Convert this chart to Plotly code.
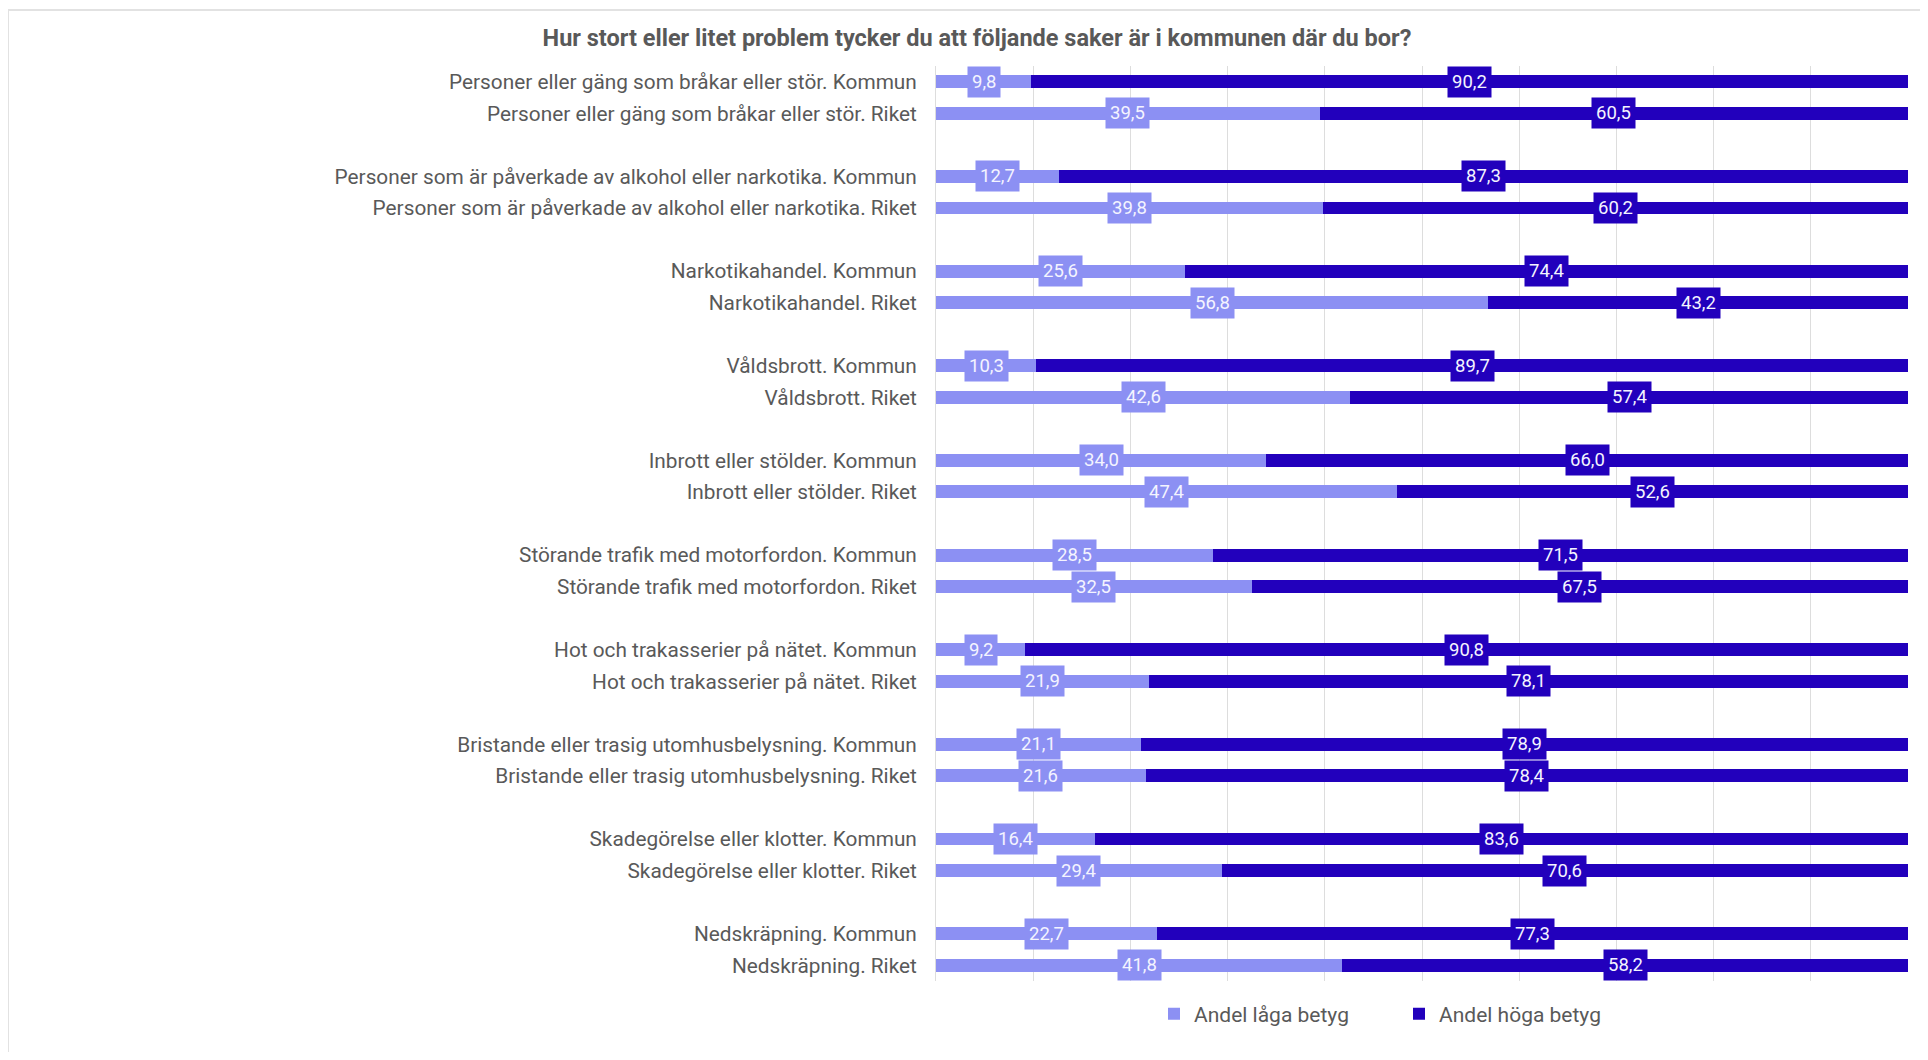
import plotly.graph_objects as go

categories = [
    "Personer eller gäng som bråkar eller stör",
    "Personer som är påverkade av alkohol eller narkotika",
    "Narkotikahandel",
    "Våldsbrott",
    "Inbrott eller stölder",
    "Störande trafik med motorfordon",
    "Hot och trakasserier på nätet",
    "Bristande eller trasig utomhusbelysning",
    "Skadegörelse eller klotter",
    "Nedskräpning",
]
areas = ["Kommun", "Riket"]

low_kommun = [9.8, 12.7, 25.6, 10.3, 34.0, 28.5, 9.2, 21.1, 16.4, 22.7]
high_kommun = [90.2, 87.3, 74.4, 89.7, 66.0, 71.5, 90.8, 78.9, 83.6, 77.3]
low_riket = [39.5, 39.8, 56.8, 42.6, 47.4, 32.5, 21.9, 21.6, 29.4, 41.8]
high_riket = [60.5, 60.2, 43.2, 57.4, 52.6, 67.5, 78.1, 78.4, 70.6, 58.2]

series_names = ["Andel låga betyg", "Andel höga betyg"]
title_text = "Hur stort eller litet problem tycker du att följande saker är i kommunen där du bor?"

LIGHT = "#8C90F3"
DARK = "#2200BC"
TEXT = "#595959"
FONT = "Roboto"

W, H = 1912, 1044
OFF_X, OFF_Y = 8, 8  # page -> figure offset (body margin)

# build row positions (Kommun / Riket per group, blank slot between groups)
ypos, ylabels, lows, highs = [], [], [], []
for i, c in enumerate(categories):
    for j, a in enumerate(areas):
        ypos.append(3 * i + j)
        ylabels.append(f"{c}. {a}")
        lows.append(low_kommun[i] if j == 0 else low_riket[i])
        highs.append(high_kommun[i] if j == 0 else high_riket[i])

fmt = lambda v: f"{v:.1f}".replace(".", ",")

fig = go.Figure()
fig.add_trace(go.Bar(
    y=ypos, x=lows, orientation="h", name=series_names[0],
    marker=dict(color=LIGHT, line=dict(width=0)), width=0.41,
    hoverinfo="skip",
))
fig.add_trace(go.Bar(
    y=ypos, x=highs, orientation="h", name=series_names[1],
    marker=dict(color=DARK, line=dict(width=0)), width=0.41,
    hoverinfo="skip",
))

annotations = []
for y, lo, hi in zip(ypos, lows, highs):
    annotations.append(dict(
        x=lo / 2, y=y, xref="x", yref="y", text=fmt(lo), showarrow=False,
        font=dict(family=FONT, size=18.5, color="#F4F4FF"),
        bgcolor=LIGHT, borderpad=4, xanchor="center", yanchor="middle",
    ))
    annotations.append(dict(
        x=lo + hi / 2, y=y, xref="x", yref="y", text=fmt(hi), showarrow=False,
        font=dict(family=FONT, size=18.5, color="#F4F4FF"),
        bgcolor=DARK, borderpad=4, xanchor="center", yanchor="middle",
    ))

# plot area in page pixels
px0, px1 = 936, 1908
py0, py1 = 66, 981

fig.update_layout(
    width=W, height=H,
    barmode="stack",
    paper_bgcolor="white", plot_bgcolor="white",
    font=dict(family=FONT, color=TEXT),
    margin=dict(l=px0 - OFF_X, r=W - (px1 - OFF_X), t=py0 - OFF_Y, b=H - (py1 - OFF_Y), pad=0),
    title=dict(
        text=f"<b>{title_text}</b>",
        font=dict(family=FONT, size=23.5, color=TEXT),
        x=(977 - OFF_X) / W, xref="container", xanchor="center",
        y=1 - (38 - OFF_Y) / H, yref="container", yanchor="middle",
    ),
    xaxis=dict(
        range=[0, 100], showgrid=True, gridcolor="#DDDDDD", gridwidth=1,
        dtick=10, showticklabels=False, zeroline=False,
        showline=False, fixedrange=True,
    ),
    yaxis=dict(
        tickmode="array", tickvals=ypos, ticktext=ylabels,
        range=[28.5, -0.5], showgrid=False, zeroline=False,
        showline=True, linecolor="#DDDDDD", linewidth=1,
        tickfont=dict(family=FONT, size=20.8, color=TEXT),
        ticks="", ticklabelstandoff=14, fixedrange=True,
    ),
    legend=dict(
        orientation="h", xref="container", yref="container",
        x=(1399 - OFF_X) / W, xanchor="center",
        y=1 - (1014 - OFF_Y) / H, yanchor="middle",
        font=dict(family=FONT, size=21, color=TEXT),
        entrywidth=200, entrywidthmode="pixels",
        traceorder="normal",
    ),
    annotations=annotations,
    shapes=[dict(
        type="rect", xref="paper", yref="paper",
        x0=(8 - px0) / (px1 - px0), x1=(1940 - px0) / (px1 - px0),
        y0=-((1070 - py1) / (py1 - py0)), y1=1 + (py0 - 10) / (py1 - py0),
        line=dict(color="#E2E2E2", width=2), fillcolor="rgba(0,0,0,0)",
        layer="below",
    )],
)

fig.write_html("out.html")
